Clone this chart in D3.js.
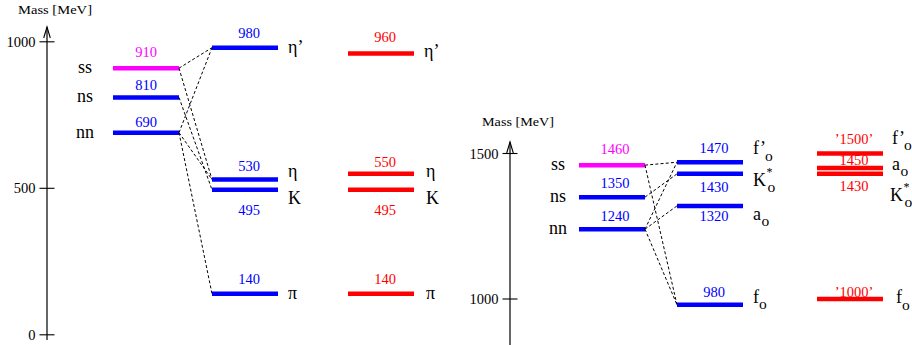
<!DOCTYPE html>
<html>
<head>
<meta charset="utf-8">
<script src="https://cdn.jsdelivr.net/npm/d3@7"></script>
<style>
  html, body { margin: 0; padding: 0; background: #fff; }
  svg { display: block; font-family: "Liberation Serif", "DejaVu Serif", serif; }
</style>
</head>
<body>
<svg id="chart" width="912" height="345"></svg>
<script>
// ---------------- DATA ----------------
// Left panel: pseudoscalar mesons
const leftQuarkNames = ["ss", "ns", "nn"];
const leftQuarkMass = [910, 810, 690];
const leftTheoryNames = ["η’", "η", "K", "π"];
const leftTheoryMass = [980, 530, 495, 140];
const leftExpNames = ["η’", "η", "K", "π"];
const leftExpMass = [960, 550, 495, 140];
const leftExpText = ["960", "550", "495", "140"];
const leftLinks = [["ss", "η’"], ["ss", "η"], ["ns", "K"], ["nn", "η’"], ["nn", "η"], ["nn", "π"]];
const leftTicks = [0, 500, 1000];

// Right panel: scalar mesons
const rightQuarkNames = ["ss", "ns", "nn"];
const rightQuarkMass = [1460, 1350, 1240];
const rightTheoryNames = ["f’0", "K*0", "a0", "f0"];
const rightTheoryMass = [1470, 1430, 1320, 980];
const rightExpNames = ["f’0", "a0", "K*0", "f0"];
const rightExpMass = [1500, 1450, 1430, 1000];
const rightExpText = ["’1500’", "1450", "1430", "’1000’"];
const rightLinks = [["ss", "f’0"], ["ss", "f0"], ["ns", "K*0"], ["nn", "f’0"], ["nn", "a0"], ["nn", "f0"]];
const rightTicks = [1000, 1500];

const axisTitle = "Mass [MeV]";

// ---------------- LAYOUT / STYLE ----------------
const BLUE = "#0000ff", RED = "#ff0000", MAGENTA = "#ff00ff";
const svg = d3.select("#chart");

// label offsets (layout only)
const L = {
  quarkValDy: [-11, -7, -6],
  theoryValDy: [-10, -9, 25, -10],
  expValDy: [-11.5, -7, 25, -10],
  theoryNameDy: [5, -2.5, 14, 5],
  expNameDy: [3, 3.5, 14, 5]
};
const R = {
  quarkValDy: [-11, -9, -8],
  theoryValDy: [-9, 18, 15, -8],
  expValDy: [-9.5, -3, 17, -2],
  theoryNameDy: [-8, 12, 14, -2],
  expNameDy: [-10, 1.5, 27, 4]
};

function drawPanel(cfg) {
  const g = svg.append("g");
  const y = d3.scaleLinear().domain(cfg.domain).range(cfg.range);

  // axis
  g.append("line").attr("x1", cfg.axisX).attr("x2", cfg.axisX)
    .attr("y1", cfg.axisTop).attr("y2", cfg.axisBottom)
    .attr("stroke", "#000").attr("stroke-width", 1.2);
  g.append("path")
    .attr("d", `M${cfg.axisX - 3.3},${cfg.axisTop + 11} L${cfg.axisX},${cfg.axisTop} L${cfg.axisX + 3.3},${cfg.axisTop + 11}`)
    .attr("fill", "none").attr("stroke", "#000").attr("stroke-width", 1.1);
  const tk = g.selectAll(".tick").data(cfg.ticks).join("g");
  tk.append("line").attr("x1", cfg.axisX - 7.5).attr("x2", cfg.axisX + 7.5)
    .attr("y1", d => y(d)).attr("y2", d => y(d)).attr("stroke", "#000").attr("stroke-width", 1.1);
  tk.append("text").attr("x", cfg.axisX - 11.5).attr("y", d => y(d) + 5)
    .attr("text-anchor", "end").attr("font-size", 14.5).attr("fill", "#000")
    .text(d => d);
  g.append("text").attr("x", cfg.titleX).attr("y", cfg.titleY)
    .attr("font-size", 12.5).attr("textLength", cfg.titleW).attr("lengthAdjust", "spacingAndGlyphs")
    .text(axisTitle);

  const cols = cfg.cols;
  const barW = 66;
  const qPos = {}, tPos = {};
  // quark levels
  cfg.quarkNames.forEach((n, i) => {
    const yy = y(cfg.quarkMass[i]);
    qPos[n] = yy;
    const col = n === "ss" ? MAGENTA : BLUE;
    g.append("line").attr("x1", cols[0]).attr("x2", cols[0] + barW)
      .attr("y1", yy).attr("y2", yy).attr("stroke", col).attr("stroke-width", 4.5);
    g.append("text").attr("x", cols[0] + barW / 2 + cfg.valDx).attr("y", yy + cfg.lay.quarkValDy[i])
      .attr("text-anchor", "middle").attr("font-size", 14.5).attr("fill", col)
      .text(cfg.quarkMass[i]);
    g.append("text").attr("x", cfg.quarkLabelX).attr("y", yy + 5)
      .attr("text-anchor", "middle").attr("font-size", 18).attr("fill", "#000")
      .text(n);
  });
  // theory levels
  cfg.theoryNames.forEach((n, i) => {
    const yy = y(cfg.theoryMass[i]);
    tPos[n] = yy;
    g.append("line").attr("x1", cols[1]).attr("x2", cols[1] + barW)
      .attr("y1", yy).attr("y2", yy).attr("stroke", BLUE).attr("stroke-width", 4.5);
    g.append("text").attr("x", cols[1] + barW / 2 + 4).attr("y", yy + cfg.lay.theoryValDy[i])
      .attr("text-anchor", "middle").attr("font-size", 14.5).attr("fill", BLUE)
      .text(cfg.theoryMass[i]);
    particleLabel(g, n, cols[1] + barW + 10, yy + cfg.lay.theoryNameDy[i]);
  });
  // experiment levels
  cfg.expNames.forEach((n, i) => {
    const yy = y(cfg.expMass[i]);
    g.append("line").attr("x1", cols[2]).attr("x2", cols[2] + barW)
      .attr("y1", yy).attr("y2", yy).attr("stroke", RED).attr("stroke-width", 4.5);
    g.append("text").attr("x", cols[2] + barW / 2 + 4).attr("y", yy + cfg.lay.expValDy[i])
      .attr("text-anchor", "middle").attr("font-size", 14.5).attr("fill", RED)
      .text(cfg.expText[i]);
    particleLabel(g, n, cols[2] + barW + 10 + (cfg.expNameDx ? cfg.expNameDx[i] : 0), yy + cfg.lay.expNameDy[i]);
  });
  // mixing links
  g.selectAll(".link").data(cfg.links).join("line")
    .attr("x1", cols[0] + barW).attr("y1", d => qPos[d[0]])
    .attr("x2", cols[1]).attr("y2", d => tPos[d[1]])
    .attr("stroke", "#000").attr("stroke-width", 1).attr("stroke-dasharray", "3,2.2");
}

// particle label as ONE text element: main glyph, optional superscript, subscript
function particleLabel(g, name, x, y) {
  const fs = 18;
  const spec = {
    "f’0": { main: "f’", sup: null, subDx: -1 },
    "K*0": { main: "K", sup: "*", subDx: -5 },
    "a0": { main: "a", sup: null, subDx: 0.5 },
    "f0": { main: "f", sup: null, subDx: 0 }
  }[name];
  const t = g.append("text").attr("x", x).attr("y", y).attr("font-size", fs);
  if (!spec) { t.text(name); return; }
  t.append("tspan").text(spec.main);
  let up = 0;
  if (spec.sup) {
    t.append("tspan").attr("dx", 0.5).attr("dy", -10).attr("font-size", 12).text(spec.sup);
    up = -10;
  }
  t.append("tspan").attr("dx", spec.subDx).attr("dy", 6.5 - up).attr("font-size", 15.5).text("o");
}

drawPanel({
  domain: [0, 1000], range: [334.8, 41.8],
  axisX: 47, axisTop: 27, axisBottom: 340, ticks: leftTicks,
  titleX: 18, titleY: 13.5, titleW: 74,
  cols: [113, 212, 348], valDx: 0, quarkLabelX: 85,
  quarkNames: leftQuarkNames, quarkMass: leftQuarkMass,
  theoryNames: leftTheoryNames, theoryMass: leftTheoryMass,
  expNames: leftExpNames, expMass: leftExpMass, expText: leftExpText,
  expNameDx: [0, 2, 2, 2],
  links: leftLinks, lay: L
});

drawPanel({
  domain: [1000, 1500], range: [299, 153.5],
  axisX: 510, axisTop: 142, axisBottom: 345, ticks: rightTicks,
  titleX: 482, titleY: 125.5, titleW: 72,
  cols: [579, 677, 817], valDx: 3, quarkLabelX: 558,
  quarkNames: rightQuarkNames, quarkMass: rightQuarkMass,
  theoryNames: rightTheoryNames, theoryMass: rightTheoryMass,
  expNames: rightExpNames, expMass: rightExpMass, expText: rightExpText,
  expNameDx: [-1, -1, -3, 3],
  links: rightLinks, lay: R
});
</script>
</body>
</html>
